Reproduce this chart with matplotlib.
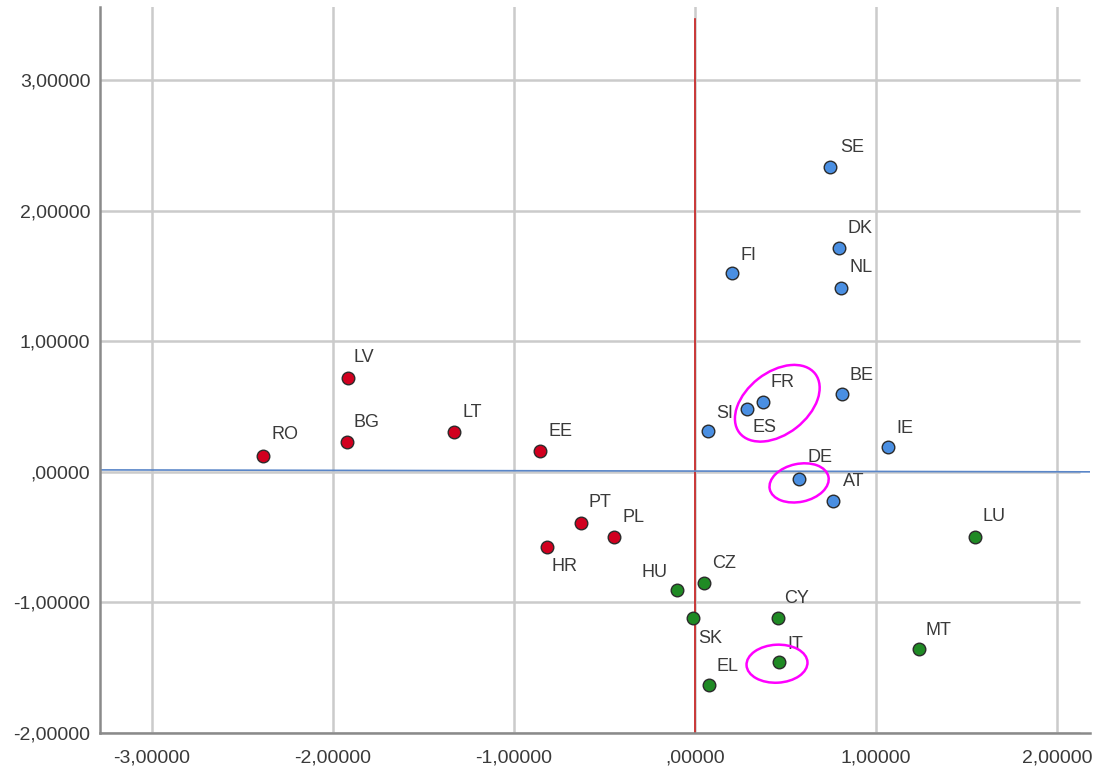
import matplotlib
matplotlib.use("Agg")
import matplotlib.pyplot as plt
from matplotlib.patches import Ellipse
from matplotlib.transforms import ScaledTranslation

plt.rcParams['font.family'] = ['Liberation Sans', 'DejaVu Sans']

# ---- data ----
blue_names = ["SE", "DK", "NL", "FI", "BE", "FR", "ES", "SI", "IE", "DE", "AT"]
blue_x = [0.746, 0.796, 0.807, 0.204, 0.810, 0.377, 0.289, 0.074, 1.065, 0.575, 0.762]
blue_y = [2.334, 1.714, 1.408, 1.523, 0.595, 0.538, 0.482, 0.314, 0.194, -0.054, -0.224]

red_names = ["LV", "BG", "RO", "LT", "EE", "PT", "PL", "HR"]
red_x = [-1.919, -1.924, -2.385, -1.331, -0.855, -0.630, -0.449, -0.818]
red_y = [0.717, 0.227, 0.122, 0.309, 0.163, -0.388, -0.500, -0.579]

green_names = ["LU", "HU", "CZ", "SK", "CY", "IT", "EL", "MT"]
green_x = [1.547, -0.101, 0.050, -0.013, 0.459, 0.464, 0.076, 1.238]
green_y = [-0.497, -0.903, -0.849, -1.120, -1.122, -1.454, -1.633, -1.357]

x_ticks = [-3, -2, -1, 0, 1, 2]
y_ticks = [-2, -1, 0, 1, 2, 3]

ref_x = 0.0
ref_line_x = [-3.29, 2.18]
ref_line_y = [0.015, 0.0]

# label offsets in pixels (dx, dy, ha)
label_pos = {
    "SE": (10, 20, "left"), "DK": (8, 20, "left"), "NL": (8, 20, "left"),
    "FI": (9, 17, "left"), "BE": (8, 19, "left"), "FR": (7, 19, "left"),
    "ES": (5, -19, "left"), "SI": (8, 17, "left"), "IE": (9, 18, "left"),
    "DE": (8, 21, "left"), "AT": (10, 20, "left"), "LU": (7, 20, "left"),
    "LV": (6, 21, "left"), "BG": (7, 20, "left"), "RO": (8, 21, "left"),
    "LT": (8, 19, "left"), "EE": (8, 19, "left"), "PT": (8, 20, "left"),
    "PL": (9, 20, "left"), "HR": (5, -19, "left"), "HU": (-9, 17, "right"),
    "CZ": (8, 19, "left"), "SK": (6, -20, "left"), "CY": (6, 20, "left"),
    "IT": (8, 17, "left"), "EL": (8, 19, "left"), "MT": (6, 19, "left"),
}

fig = plt.figure(figsize=(11.01, 7.70), dpi=100)
ax = fig.add_axes([100/1101, 37/770, 990/1101, 726/770])
ax.set_xlim(-3.287, 2.182)
ax.set_ylim(-2.0, 3.56)

grid_c = "#cbcbcb"
for xv in x_ticks:
    ax.axvline(xv, color=grid_c, lw=1.8, zorder=0)
for yv in y_ticks:
    ax.hlines(yv, -3.287, 2.127, color=grid_c, lw=1.8, zorder=0)

# reference lines
ax.plot([ref_x, ref_x], [-2.0, 3.47], color="#c81e1e", lw=1.2, zorder=1)
ax.plot(ref_line_x, ref_line_y, color="#5a86c8", lw=1.2, zorder=1)

msize = 82
edge = "#2b2b2b"
ax.scatter(blue_x, blue_y, s=msize, c="#4a8fe2", edgecolors=edge, linewidths=1.0, zorder=3)
ax.scatter(red_x, red_y, s=msize, c="#d1001f", edgecolors=edge, linewidths=1.0, zorder=3)
ax.scatter(green_x, green_y, s=msize, c="#1f8a24", edgecolors=edge, linewidths=1.0, zorder=3)

for names, xs, ys in [(blue_names, blue_x, blue_y), (red_names, red_x, red_y),
                      (green_names, green_x, green_y)]:
    for n, xv, yv in zip(names, xs, ys):
        dx, dy, ha = label_pos[n]
        ax.annotate(n, (xv, yv), xytext=(dx, dy), textcoords="offset pixels",
                    ha=ha, va="center", fontsize=13, color="#3a3a3a", zorder=4)

def px_ellipse(cx, cy, dxp, dyp, wpx, hpx, angle):
    tr = fig.dpi_scale_trans + ScaledTranslation(cx, cy, ax.transData)
    e = Ellipse((dxp/100, dyp/100), wpx/100, hpx/100, angle=angle, fill=False,
                edgecolor="#ff00ff", lw=1.8, transform=tr, zorder=5)
    ax.add_patch(e)

i_fr = blue_names.index("FR"); i_es = blue_names.index("ES")
px_ellipse((blue_x[i_fr]+blue_x[i_es])/2, (blue_y[i_fr]+blue_y[i_es])/2, 22, 2, 96, 62, 38)
i_de = blue_names.index("DE")
px_ellipse(blue_x[i_de], blue_y[i_de], 0, -4, 60, 38, 12)
i_it = green_names.index("IT")
px_ellipse(green_x[i_it], green_y[i_it], -2, -2, 61, 38, 3)

def fmt(v):
    s = f"{v:.5f}".replace(".", ",")
    if s.startswith("0,"):
        s = s[1:]
    return s

ax.set_xticks(x_ticks)
ax.set_yticks(y_ticks)
ax.set_xticklabels([fmt(v) for v in x_ticks])
ax.set_yticklabels([fmt(v) for v in y_ticks])
ax.tick_params(axis="both", length=0, labelsize=14, labelcolor="#3a3a3a")
ax.tick_params(axis="x", pad=12)
ax.tick_params(axis="y", pad=7)

for s in ["top", "right"]:
    ax.spines[s].set_visible(False)
for s in ["left", "bottom"]:
    ax.spines[s].set_color("#8a8a8a")
    ax.spines[s].set_linewidth(1.8)

fig.savefig("out.png", dpi=100)
